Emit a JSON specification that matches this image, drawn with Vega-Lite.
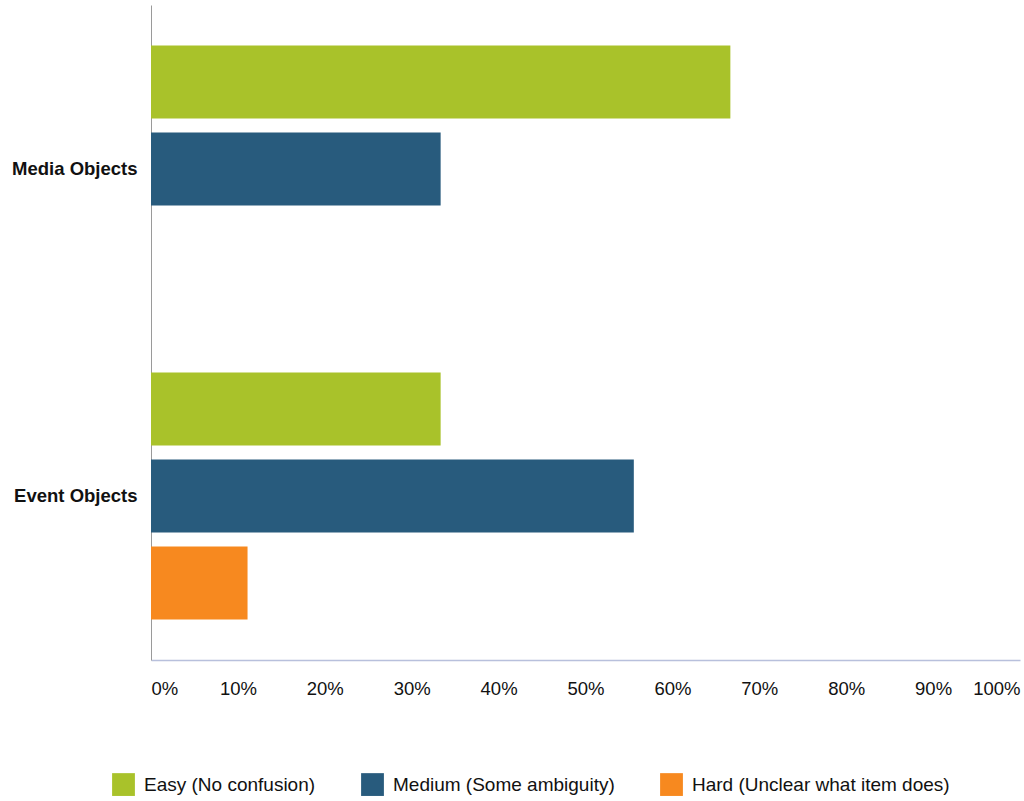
{
  "$schema": "https://vega.github.io/schema/vega-lite/v6.json",
  "autosize": {"type": "none"},
  "padding": {"left": 151, "top": 5, "right": 4, "bottom": 141},
  "width": 869,
  "height": 655,
  "background": "white",
  "config": {"view": {"stroke": null}, "font": "Liberation Sans"},
  "data": {
    "values": [
      {"object": "Media Objects", "difficulty": "Easy (No confusion)", "share": 0.6667},
      {"object": "Media Objects", "difficulty": "Medium (Some ambiguity)", "share": 0.3333},
      {"object": "Event Objects", "difficulty": "Easy (No confusion)", "share": 0.3333},
      {"object": "Event Objects", "difficulty": "Medium (Some ambiguity)", "share": 0.5556},
      {"object": "Event Objects", "difficulty": "Hard (Unclear what item does)", "share": 0.1111}
    ]
  },
  "mark": {"type": "bar"},
  "encoding": {
    "y": {
      "field": "object",
      "type": "nominal",
      "title": null,
      "scale": {"domain": ["Media Objects", "Event Objects"], "paddingInner": 0.245, "paddingOuter": 0.124},
      "axis": {
        "ticks": false,
        "domainColor": "#9a9a9a",
        "domainWidth": 1,
        "labelFont": "Liberation Sans",
        "labelFontSize": 18.5,
        "labelFontWeight": "bold",
        "labelColor": "#111111",
        "labelPadding": 14
      }
    },
    "yOffset": {
      "field": "difficulty",
      "type": "nominal",
      "scale": {"domain": ["Easy (No confusion)", "Medium (Some ambiguity)", "Hard (Unclear what item does)"], "paddingInner": 0.16, "paddingOuter": 0}
    },
    "x": {
      "field": "share",
      "type": "quantitative",
      "title": null,
      "scale": {"domain": [0, 1], "nice": false},
      "axis": {
        "format": ".0%",
        "values": [0, 0.1, 0.2, 0.3, 0.4, 0.5, 0.6, 0.7, 0.8, 0.9, 1],
        "grid": false,
        "ticks": false,
        "domainColor": "#b8c0dc",
        "domainWidth": 1.5,
        "labelFont": "Liberation Sans",
        "labelFontSize": 18.5,
        "labelColor": "#111111",
        "labelPadding": 19,
        "labelFlush": true
      }
    },
    "color": {
      "field": "difficulty",
      "type": "nominal",
      "title": null,
      "scale": {
        "domain": ["Easy (No confusion)", "Medium (Some ambiguity)", "Hard (Unclear what item does)"],
        "range": ["#a9c22a", "#285b7d", "#f7891f"]
      },
      "legend": {
        "orient": "none",
        "direction": "horizontal",
        "legendX": -39,
        "legendY": 768,
        "symbolType": "square",
        "symbolSize": 520,
        "symbolStrokeWidth": 0,
        "symbolOpacity": 1,
        "labelFont": "Liberation Sans",
        "labelFontSize": 19,
        "labelColor": "#111111",
        "labelOffset": 9,
        "labelLimit": 400,
        "columnPadding": 45
      }
    }
  }
}
